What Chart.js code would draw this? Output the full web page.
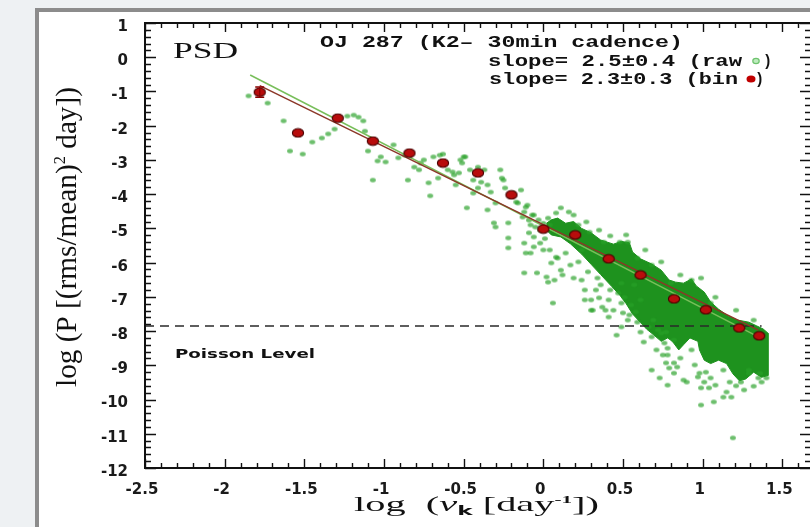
<!DOCTYPE html>
<html><head><meta charset="utf-8">
<script src="https://cdn.jsdelivr.net/npm/chart.js@4.4.1/dist/chart.umd.min.js"></script>
<style>
html,body{margin:0;padding:0;width:810px;height:527px;overflow:hidden;background:#eef1f3;}
#frame{position:absolute;left:35px;top:8px;width:900px;height:700px;background:#fff;border-left:4px solid #8c8c8c;border-top:4px solid #8c8c8c;box-sizing:border-box;}
#c{position:absolute;left:0;top:0;}
</style></head><body>
<div id="frame"></div>
<canvas id="c" width="818" height="527"></canvas>
<script>
// ---- axis ticks ----
const xTickVals = [-2.5, -2, -1.5, -1, -0.5, 0, 0.5, 1, 1.5];
const xTickLabels = ['-2.5', '-2', '-1.5', '-1', '-0.5', '0', '0.5', '1', '1.5'];
const yTickVals = [-12, -11, -10, -9, -8, -7, -6, -5, -4, -3, -2, -1, 0, 1];
const yTickLabels = ['-12', '-11', '-10', '-9', '-8', '-7', '-6', '-5', '-4', '-3', '-2', '-1', '0', '1'];

// ---- binned PSD (red) ----
const binX = [-1.78, -1.54, -1.29, -1.07, -0.84, -0.63, -0.41, -0.20, 0.00, 0.20, 0.41, 0.61, 0.82, 1.02, 1.23, 1.355];
const binY = [-1.02, -2.21, -1.78, -2.45, -2.80, -3.09, -3.38, -4.02, -5.02, -5.19, -5.89, -6.36, -7.06, -7.38, -7.91, -8.14];
const binErr = [0.15, 0, 0, 0, 0, 0, 0, 0, 0, 0, 0, 0, 0, 0, 0, 0];

// ---- raw periodogram, individually visible points (green) ----
const rawX = [-1.85, -1.73, -1.63, -1.59, -1.51, -1.45, -1.39, -1.35, -1.31, -1.23, -1.19, -1.16, -1.13, -1.12, -1.10, -1.07, -1.04, -1.02, -0.99, -0.94,
  -0.91, -0.87, -0.85, -0.81, -0.78, -0.75, -0.72, -0.71, -0.69, -0.65, -0.66, -0.60, -0.56, -0.55, -0.52, -0.50, -0.48, -0.46, -0.44, -0.41,
  -0.37, -0.35, -0.33, -0.30, -0.27, -0.26, -0.24, -0.31, -0.22, -0.19, -0.16, -0.13, -0.11, -0.09, -0.12, -0.06, -0.05, -0.06, -0.08, -0.77,
  -0.63, -0.57, -0.53, -0.51, -0.49, -0.44, -0.41, -0.39, -0.35, -0.30, -0.25, -0.22, -0.22, -0.17, -0.14, -0.12, -0.10, -0.09, -0.07, -0.11,
  -0.12, -0.06, -0.04, -0.02, 0.00, 0.02, 0.03, 0.06, 0.05, 0.08, 0.07, 0.04, 0.09, 0.12, 0.17, 0.22, 0.26, 0.24, 0.26, 0.30,
  0.33, 0.31, 0.35, 0.37, 0.41, 0.41, 0.44, 0.46, 0.49, 0.50, 0.53, 0.55, 0.58, 0.61, 0.63, 0.66, 0.68, 0.71, 0.74, 0.76,
  0.78, 0.68, 0.73, 0.78, 0.82, 0.82, 0.78, 0.77, 0.84, 0.90, 0.95, 0.98, 0.99, 1.01, 1.05, 1.13, 1.13, 1.18, 0.99, 1.19,
  1.35, 1.37, 1.29, 1.24, 1.17, 0.88, 0.97, 1.04, 1.21, 1.29, 1.36, 0.03, 0.08, 0.19, 0.22, 0.29, 0.38, 0.48, 0.53, 0.59,
  0.68, 0.80, 0.93, 1.05, 0.30, 0.39, 0.49, -0.03, -0.02, 0.00, 0.01, -0.08, 0.04,
  0.11, 0.14, 0.19, 0.28, 0.34, 0.36, 0.42, 0.47, 0.51, 0.54, 0.59, 0.61, 0.69, 0.72, 0.77, 0.82, 0.57, 0.49, 0.24, 0.41,
  0.75, 0.79, 0.86, 0.93, 1.02, 1.08, 1.15, 1.26, 1.32, 1.40, 1.07,
  0.11, 0.16, 0.27, 0.35, 0.42, 0.52, 0.64, 0.74, 0.86, 0.99, 1.08, 1.21, 1.32];
const rawY = [-1.13, -1.34, -1.86, -2.74, -2.83, -2.48, -2.36, -2.24, -2.10, -1.72, -1.69, -1.75, -1.86, -2.16, -2.74, -3.59, -3.03, -2.91, -3.06, -2.56,
  -2.94, -2.86, -3.59, -3.21, -3.29, -3.00, -3.67, -4.05, -2.91, -2.86, -3.53, -3.29, -3.44, -3.73, -3.00, -2.91, -4.40, -3.29, -3.97, -3.82,
  -3.29, -3.73, -3.94, -4.26, -3.29, -3.53, -3.82, -4.84, -4.84, -3.97, -4.26, -4.67, -4.38, -5.13, -5.43, -4.61, -4.96, -5.54, -5.72, -3.09,
  -2.83, -3.35, -3.38, -3.09, -2.91, -3.59, -3.21, -3.65, -4.46, -4.96, -3.59, -5.28, -5.57, -4.23, -3.88, -4.52, -4.32, -4.76, -4.61, -5.72,
  -6.30, -5.25, -6.30, -5.43, -5.63, -6.42, -6.57, -7.18, -6.01, -5.84, -6.51, -5.63, -5.87, -6.36, -6.07, -5.98, -6.80, -6.51, -7.09, -7.09,
  -6.80, -7.39, -7.03, -7.30, -7.09, -7.59, -7.39, -8.12, -7.18, -7.47, -7.68, -7.24, -7.44, -8.03, -8.32, -7.88, -8.17, -8.55, -8.06, -8.35,
  -8.70, -9.14, -9.37, -9.58, -9.23, -8.93, -8.50, -8.93, -9.05, -9.49, -8.99, -9.23, -9.66, -9.49, -9.37, -9.14, -9.93, -9.93, -10.16, -11.12,
  -9.37, -9.49, -9.23, -9.49, -9.49, -9.43, -9.34, -9.66, -9.60, -9.14, -9.23, -4.70, -4.55, -4.61, -4.90, -5.11, -5.40, -5.40, -5.40, -5.87,
  -6.07, -6.60, -6.51, -7.18, -7.39, -7.39, -7.88, -4.75, -5.05, -4.85, -5.30, -4.90, -4.90,
  -6.22, -5.72, -6.45, -6.27, -6.45, -6.65, -6.80, -6.89, -7.01, -7.53, -7.74, -7.09, -7.68, -7.97, -8.03, -8.26, -6.65, -6.60, -5.63, -5.92,
  -8.70, -9.08, -8.79, -8.55, -9.20, -9.58, -9.78, -9.72, -9.61, -9.37, -10.07,
  -4.40, -4.52, -4.81, -5.05, -5.22, -5.19, -5.63, -5.98, -6.36, -6.45, -7.01, -7.39, -7.68];

// ---- raw periodogram, dense core envelope (green) ----
const coreUpperX = [0.02, 0.05, 0.09, 0.14, 0.19, 0.24, 0.30, 0.36, 0.44, 0.49, 0.54, 0.56, 0.61, 0.68, 0.74, 0.79, 0.83, 0.88, 0.93, 0.96, 1.01, 1.05, 1.10, 1.16, 1.22, 1.29, 1.34, 1.38, 1.41];
const coreUpperY = [-4.85, -4.75, -4.70, -4.85, -4.80, -5.00, -5.13, -5.34, -5.46, -5.38, -5.42, -5.69, -5.89, -6.04, -6.22, -6.51, -6.57, -6.60, -6.48, -6.68, -6.86, -7.15, -7.36, -7.56, -7.68, -7.74, -7.85, -7.94, -8.06];
const coreLowerX = [1.41, 1.37, 1.32, 1.27, 1.23, 1.19, 1.15, 1.10, 1.05, 1.01, 0.98, 0.97, 0.92, 0.88, 0.85, 0.81, 0.78, 0.74, 0.69, 0.65, 0.61, 0.56, 0.52, 0.48, 0.43, 0.36, 0.30, 0.24, 0.17, 0.11, 0.05, 0.02];
const coreLowerY = [-9.30, -9.35, -9.20, -9.40, -9.45, -9.25, -8.95, -8.85, -8.95, -8.85, -8.55, -8.30, -8.20, -8.40, -8.55, -8.30, -8.20, -8.30, -8.10, -7.95, -7.75, -7.50, -7.20, -6.95, -6.70, -6.35, -6.05, -5.75, -5.45, -5.25, -5.19, -5.05];

// ---- power-law fits and Poisson level ----
const fitRawX = [-1.84, 1.35];
const fitRawY = [-0.52, -8.17];
const fitBinX = [-1.78, 1.35];
const fitBinY = [-0.83, -7.97];
const poissonX = [-2.5, 1.37];
const poissonLevel = -7.85;

// ---- helpers ----
function pts(xs, ys) { return xs.map((x, i) => ({ x: x, y: ys[i] })); }
function ellipseImg(rx, ry, fill, stroke, lw) {
  const c = document.createElement('canvas');
  c.width = Math.ceil(rx * 2 + 2); c.height = Math.ceil(ry * 2 + 2);
  const g = c.getContext('2d');
  g.beginPath(); g.ellipse(c.width / 2, c.height / 2, rx, ry, 0, 0, Math.PI * 2);
  g.fillStyle = fill; g.fill();
  if (stroke) { g.lineWidth = lw; g.strokeStyle = stroke; g.stroke(); }
  return c;
}
const rawImg = ellipseImg(2.9, 2.2, 'rgba(40,160,40,0.68)');
const binImg = ellipseImg(5.6, 4.3, '#b80c0c', '#4a0000', 1.1);

function drawParts(ctx, parts, x, y, targetW, sy) {
  let w = 0;
  parts.forEach(p => { ctx.font = p.font; p.w = ctx.measureText(p.t).width; w += p.w; });
  ctx.save();
  ctx.translate(x, y);
  ctx.scale(targetW / w, sy || 1);
  ctx.textAlign = 'left'; ctx.textBaseline = 'alphabetic';
  let cx = 0;
  parts.forEach(p => { ctx.font = p.font; ctx.fillStyle = p.color || '#111'; ctx.fillText(p.t, cx, p.dy || 0); cx += p.w; });
  ctx.restore();
}

const decoPlugin = {
  id: 'deco',
  afterDatasetsDraw(chart) {
    const { ctx, chartArea: a, scales: { x, y } } = chart;
    ctx.save();
    ctx.strokeStyle = '#8a0000'; ctx.lineWidth = 1.4;
    binX.forEach((bx, i) => {
      if (!binErr[i]) return;
      const px = x.getPixelForValue(bx);
      const p1 = y.getPixelForValue(binY[i] + binErr[i]);
      const p2 = y.getPixelForValue(binY[i] - binErr[i]);
      ctx.beginPath();
      ctx.moveTo(px, p1); ctx.lineTo(px, p2);
      ctx.moveTo(px - 4.5, p1); ctx.lineTo(px + 4.5, p1);
      ctx.moveTo(px - 4.5, p2); ctx.lineTo(px + 4.5, p2);
      ctx.stroke();
    });
    ctx.strokeStyle = '#111'; ctx.lineWidth = 1.4;
    ctx.beginPath();
    for (let k = 0; ; k++) {
      const v = x.min + k * 0.1; if (v > x.max + 1e-9) break;
      const major = Math.abs(v * 2 - Math.round(v * 2)) < 1e-6;
      const px = Math.round(x.getPixelForValue(v)) + 0.5;
      const L = major ? 9 : 5;
      ctx.moveTo(px, a.bottom); ctx.lineTo(px, a.bottom - L);
      ctx.moveTo(px, a.top); ctx.lineTo(px, a.top + L);
    }
    for (let k = 0; ; k++) {
      const v = y.min + k * 0.2; if (v > y.max + 1e-9) break;
      const major = Math.abs(v - Math.round(v)) < 1e-6;
      const py = Math.round(y.getPixelForValue(v)) + 0.5;
      const L = major ? 11 : 6;
      ctx.moveTo(a.left, py); ctx.lineTo(a.left + L, py);
      ctx.moveTo(a.right, py); ctx.lineTo(a.right - L, py);
    }
    ctx.stroke();
    ctx.lineWidth = 2;
    ctx.strokeRect(a.left, a.top, a.right - a.left, a.bottom - a.top);
    ctx.restore();
  },
  afterDraw(chart) {
    const ctx = chart.ctx;
    const a = chart.chartArea;
    ctx.save();
    const mono = 'bold 17px "Liberation Mono"';
    drawParts(ctx, [{ t: 'PSD', font: '24px "Liberation Serif"' }], 173, 58, 65);
    drawParts(ctx, [{ t: 'OJ 287 (K2– 30min cadence)', font: mono }], 320, 47, 363);
    drawParts(ctx, [{ t: 'slope= 2.5±0.4 (raw', font: mono }], 488, 66, 254);
    drawParts(ctx, [{ t: ')', font: mono }], 763, 66, 9);
    ctx.beginPath(); ctx.ellipse(756, 61, 3.2, 2.6, 0, 0, Math.PI * 2);
    ctx.fillStyle = 'rgba(190,235,190,1)'; ctx.fill();
    ctx.strokeStyle = 'rgb(110,195,110)'; ctx.lineWidth = 1.2; ctx.stroke();
    drawParts(ctx, [{ t: 'slope= 2.3±0.3 (bin', font: mono }], 489, 84, 249);
    drawParts(ctx, [{ t: ')', font: mono }], 755, 84, 9);
    ctx.beginPath(); ctx.ellipse(751, 79, 4.5, 3.6, 0, 0, Math.PI * 2);
    ctx.fillStyle = '#c00000'; ctx.fill();
    drawParts(ctx, [{ t: 'Poisson Level', font: 'bold 13px "DejaVu Sans"' }], 175, 358, 140);
    const serif = '"Liberation Serif"';
    const cx = (a.left + a.right) / 2;
    drawParts(ctx, [
      { t: 'log  (', font: '21px ' + serif },
      { t: 'ν', font: 'italic 21px ' + serif },
      { t: 'k', font: 'bold 12px "DejaVu Sans"', dy: 4 },
      { t: ' [day', font: '21px ' + serif },
      { t: '-1', font: 'bold 11px ' + serif, dy: -8 },
      { t: '])', font: '21px ' + serif }
    ], cx - 124, 511, 245);
    ctx.save();
    ctx.translate(76, 387);
    ctx.rotate(-Math.PI / 2);
    drawParts(ctx, [
      { t: 'log (P [(rms/mean)', font: '25px ' + serif },
      { t: '2', font: '14px ' + serif, dy: -10 },
      { t: ' day])', font: '25px ' + serif }
    ], 0, 0, 300, 1.15);
    ctx.restore();
    ctx.restore();
  }
};

const tickFont = { family: 'DejaVu Sans', weight: 'bold', size: 15 };
function zeroPad(s) { s.paddingLeft = 0; s.paddingRight = 0; s.paddingTop = 0; s.paddingBottom = 0; }

new Chart(document.getElementById('c'), {
  type: 'scatter',
  data: {
    datasets: [
      { label: 'core', data: [...pts(coreUpperX, coreUpperY), ...pts(coreLowerX, coreLowerY)], showLine: true, fill: 'shape',
        backgroundColor: 'rgb(30,146,30)', borderColor: 'rgb(30,146,30)', borderWidth: 1, pointRadius: 0, tension: 0, order: 6 },
      { label: 'raw', data: pts(rawX, rawY), pointStyle: rawImg, pointRadius: 3, showLine: false, order: 5 },
      { label: 'Poisson', data: pts(poissonX, [poissonLevel, poissonLevel]), showLine: true, borderColor: '#2a2a2a', borderWidth: 1.6,
        borderDash: [9, 6], pointRadius: 0, fill: false, order: 4 },
      { label: 'fit raw', data: pts(fitRawX, fitRawY), showLine: true, borderColor: 'rgb(120,190,90)', borderWidth: 1.5, pointRadius: 0, fill: false, order: 3 },
      { label: 'fit bin', data: pts(fitBinX, fitBinY), showLine: true, borderColor: 'rgb(140,55,40)', borderWidth: 1.5, pointRadius: 0, fill: false, order: 2 },
      { label: 'bin', data: pts(binX, binY), pointStyle: binImg, pointRadius: 6, showLine: false, order: 1 }
    ]
  },
  options: {
    responsive: false, animation: false, devicePixelRatio: 1,
    layout: { padding: { left: 0, right: 1, top: 23, bottom: 0 } },
    plugins: { legend: { display: false }, tooltip: { enabled: false } },
    scales: {
      x: {
        type: 'linear', min: -2.5, max: 1.68,
        afterBuildTicks: s => { s.ticks = xTickVals.map(v => ({ value: v })); },
        afterFit: s => { s.height = 59; zeroPad(s); },
        grid: { display: false, drawTicks: false },
        border: { display: false },
        ticks: { padding: 13, labelOffset: -3, autoSkip: false, maxRotation: 0, font: tickFont, color: '#1a1a1a',
          callback: (v, i) => xTickLabels[i] }
      },
      y: {
        type: 'linear', min: -12, max: 1,
        afterBuildTicks: s => { s.ticks = yTickVals.map(v => ({ value: v })); },
        afterFit: s => { s.width = 145; zeroPad(s); },
        grid: { display: false, drawTicks: false },
        border: { display: false },
        ticks: { padding: 17, labelOffset: 4, autoSkip: false, font: tickFont, color: '#1a1a1a',
          callback: (v, i) => yTickLabels[i] }
      }
    }
  },
  plugins: [decoPlugin]
});
</script></body></html>
